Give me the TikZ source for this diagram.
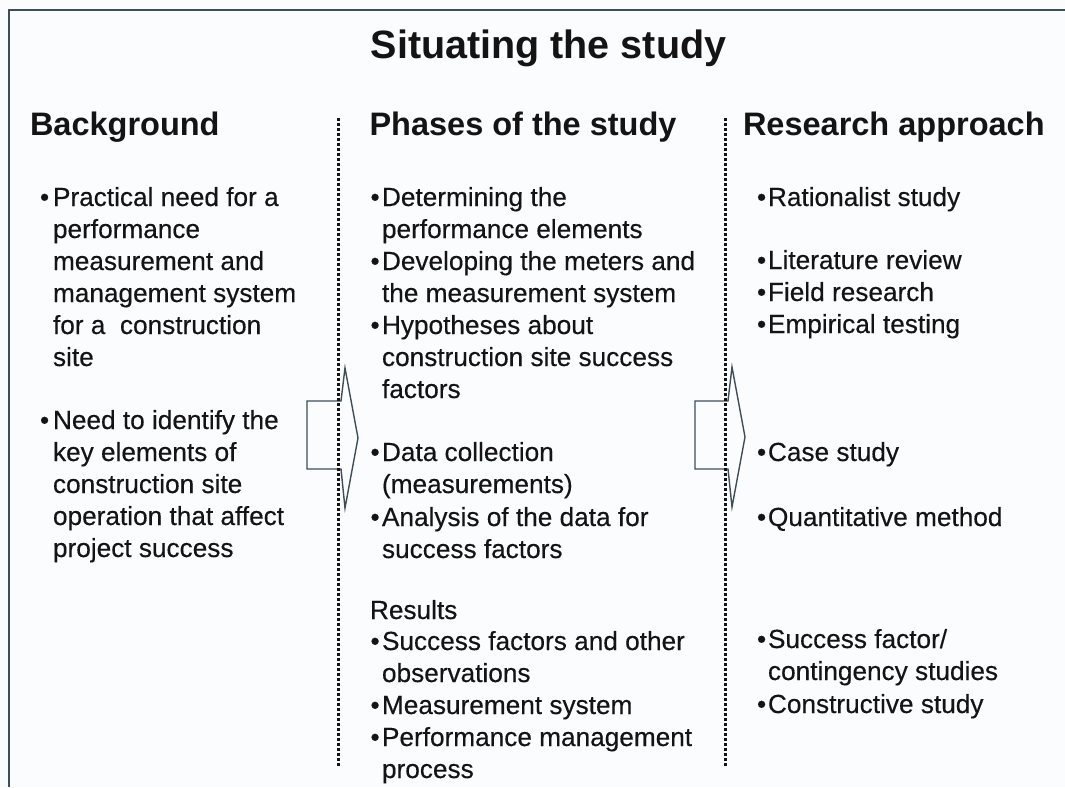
\documentclass[tikz,border=0pt]{standalone}
\usepackage{fontspec}
\setmainfont{Liberation Sans}
\newfontfamily\bodyfont{Liberation Sans}[FakeBold=0.35]

\definecolor{ink}{HTML}{141414}
\definecolor{framec}{HTML}{3E4E58}
\definecolor{paper}{HTML}{FBFCFE}

% bullet with a hanging indent of the given width
\newcommand\blt[1]{\makebox[#1][l]{•}}
\newcommand\hang[1]{\hspace*{#1}}

\tikzset{
  txt/.style={anchor=base west, inner sep=0pt, outer sep=0pt, text=ink,
              font=\bodyfont\fontsize{26.2}{32}\selectfont},
  head/.style={anchor=base west, inner sep=0pt, outer sep=0pt, text=ink,
               font=\bfseries\fontsize{32.5}{38}\selectfont},
  frameline/.style={draw=framec, line width=2pt},
  blockarrow/.style={draw=framec, fill=paper, line width=1.4pt, line join=miter},
  dotline/.style={draw=ink, line width=3pt, dash pattern=on 2.6pt off 2.4pt},
}

\begin{document}
\begin{tikzpicture}[x=1pt, y=-1pt]
  \useasboundingbox[fill=paper] (0,0) rectangle (1065,787);

  % outer frame (top and left edges only)
  \coordinate (fl) at (9,787);
  \coordinate (fc) at (9,9.5);
  \coordinate (fr) at (1065,9.5);
  \draw[frameline] (fl) -- (fc) -- (fr);

  % title
  \node[anchor=base, inner sep=0pt, text=ink,
        font=\bfseries\fontsize{39.5}{47}\selectfont] (title) at (548.5,58) {Situating the study};

  % column headings
  \node[head] (hbg) at (30,135)    {Background};
  \node[head] (hph) at (369.5,135) {Phases of the study};
  \node[head] (hra) at (743,135)   {Research approach};

  % block arrows between the columns
  \coordinate (a1) at (307,401);
  \coordinate (a2) at (341,401);
  \coordinate (a3) at (345,368);
  \coordinate (a4) at (358,438);
  \coordinate (a5) at (345,508);
  \coordinate (a6) at (341,469);
  \coordinate (a7) at (307,469);
  \draw[blockarrow] (a1) -- (a2) -- (a3) -- (a4) -- (a5) -- (a6) -- (a7) -- cycle;

  \coordinate (b1) at (695,401);
  \coordinate (b2) at (728,401);
  \coordinate (b3) at (732,367);
  \coordinate (b4) at (745,437);
  \coordinate (b5) at (732,507);
  \coordinate (b6) at (728,469);
  \coordinate (b7) at (695,469);
  \draw[blockarrow] (b1) -- (b2) -- (b3) -- (b4) -- (b5) -- (b6) -- (b7) -- cycle;

  % dotted separators
  \coordinate (d1t) at (338,118);
  \coordinate (d1b) at (338,766);
  \coordinate (d2t) at (725,118);
  \coordinate (d2b) at (725,766);
  \draw[dotline] (d1t) -- (d1b);
  \draw[dotline] (d2t) -- (d2b);

  % Background column
  \node[txt] (l1) at (40,206) {\begin{tabular}[t]{@{}l@{}}
    \blt{13pt}Practical need for a\\
    \hang{13pt}performance\\
    \hang{13pt}measurement and\\
    \hang{13pt}management system\\
    \hang{13pt}for a\ \ construction\\
    \hang{13pt}site\end{tabular}};
  \node[txt] (l2) at (40,429) {\begin{tabular}[t]{@{}l@{}}
    \blt{13pt}Need to identify the\\
    \hang{13pt}key elements of\\
    \hang{13pt}construction site\\
    \hang{13pt}operation that affect\\
    \hang{13pt}project success\end{tabular}};

  % Phases column
  \node[txt] (m1) at (370.5,206) {\begin{tabular}[t]{@{}l@{}}
    \blt{11.5pt}Determining the\\
    \hang{11.5pt}performance elements\end{tabular}};
  \node[txt] (m2) at (370.5,270) {\begin{tabular}[t]{@{}l@{}}
    \blt{11.5pt}Developing the meters and\\
    \hang{11.5pt}the measurement system\end{tabular}};
  \node[txt] (m3) at (370.5,334) {\begin{tabular}[t]{@{}l@{}}
    \blt{11.5pt}Hypotheses about\\
    \hang{11.5pt}construction site success\\
    \hang{11.5pt}factors\end{tabular}};
  \node[txt] (m4) at (370.5,461) {\begin{tabular}[t]{@{}l@{}}
    \blt{11.5pt}Data collection\\
    \hang{11.5pt}(measurements)\end{tabular}};
  \node[txt] (m5) at (370.5,526) {\begin{tabular}[t]{@{}l@{}}
    \blt{11.5pt}Analysis of the data for\\
    \hang{11.5pt}success factors\end{tabular}};
  \node[txt] (res) at (370,619) {Results};
  \node[txt] (m6) at (370.5,650) {\begin{tabular}[t]{@{}l@{}}
    \blt{11.5pt}Success factors and other\\
    \hang{11.5pt}observations\end{tabular}};
  \node[txt] (m7) at (370.5,714) {\blt{11.5pt}Measurement system};
  \node[txt] (m8) at (370.5,746) {\begin{tabular}[t]{@{}l@{}}
    \blt{11.5pt}Performance management\\
    \hang{11.5pt}process\end{tabular}};

  % Research approach column
  \node[txt] (r1) at (757,206) {\blt{11pt}Rationalist study};
  \node[txt] (r2) at (757,269) {\blt{11pt}Literature review};
  \node[txt] (r3) at (757,301) {\blt{11pt}Field research};
  \node[txt] (r4) at (757,333) {\blt{11pt}Empirical testing};
  \node[txt] (r5) at (757,461) {\blt{11pt}Case study};
  \node[txt] (r6) at (757,526) {\blt{11pt}Quantitative method};
  \node[txt] (r7) at (757,648) {\begin{tabular}[t]{@{}l@{}}
    \blt{11pt}Success factor/\\
    \hang{11pt}contingency studies\end{tabular}};
  \node[txt] (r8) at (757,713) {\blt{11pt}Constructive study};
\end{tikzpicture}
\end{document}
